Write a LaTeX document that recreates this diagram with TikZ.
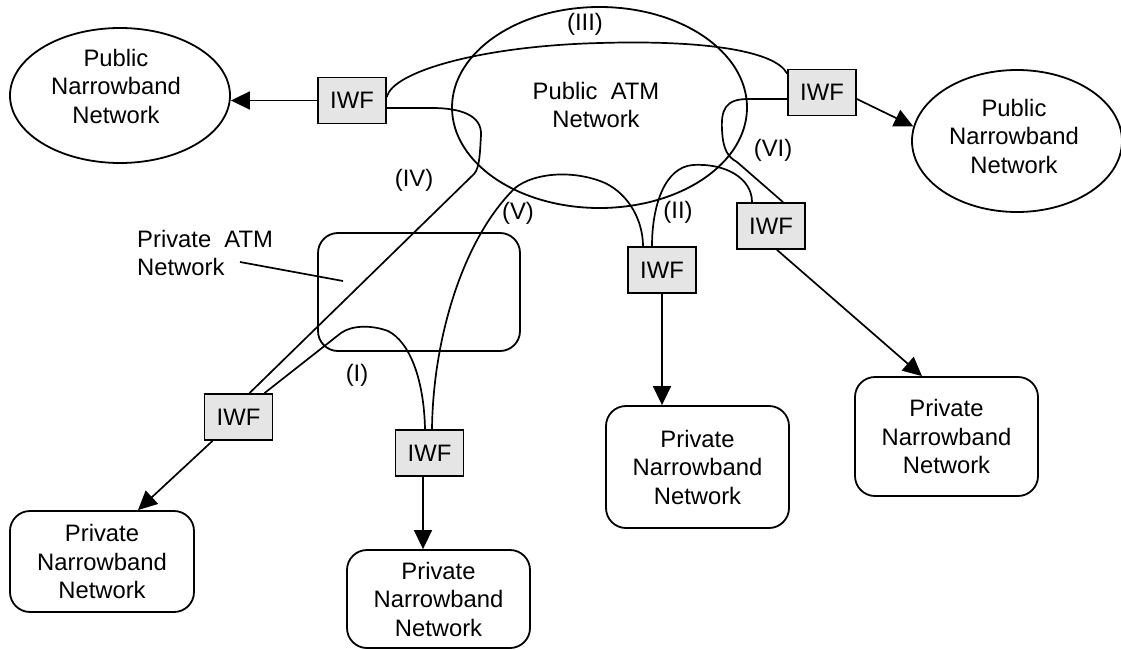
\documentclass[tikz,border=0pt]{standalone}
\usepackage{fontspec}
\setmainfont{Liberation Sans}
\usetikzlibrary{shapes.geometric,arrows.meta}
\begin{document}
\begin{tikzpicture}[x=1pt,y=-1pt,
  every node/.style={font=\fontsize{23.8}{28.5}\selectfont},
  ln/.style={line width=1.7pt},
  iwf/.style={draw, line width=1.8pt, fill=black!10, minimum width=68pt, minimum height=46pt, inner sep=0pt},
  pubnet/.style={ellipse, draw, line width=1.8pt, inner sep=0pt},
  privnet/.style={rectangle, draw, line width=1.8pt, rounded corners=20pt, align=center, inner sep=0pt},
  txt/.style={align=center, inner sep=0pt},
  tip/.style={-{Triangle[length=19pt,width=18pt]}}
]
\useasboundingbox (0,0) rectangle (1121,650);

% networks
\node[pubnet, minimum width=220pt, minimum height=135pt] (pubL) at (120,95.5) {};
\node[txt] (pubLt) at (116,86) {Public\\Narrowband\\Network};
\node[pubnet, minimum width=295pt, minimum height=201pt] (atm) at (599.5,107.5) {};
\node[txt] (atmt) at (596,105) {Public\ \ ATM\\Network};
\node[pubnet, minimum width=210pt, minimum height=142pt] (pubR) at (1017,141) {};
\node[txt] (pubRt) at (1014,136) {Public\\Narrowband\\Network};

\node[privnet, minimum width=202pt, minimum height=118pt] (patm) at (419,292) {};
\node[txt, align=left, anchor=north west] (patmt) at (137,230) {Private\ \ ATM\\Network};
\coordinate (ptrS) at (240,262);
\coordinate (ptrE) at (343,281);
\draw[ln] (ptrS) -- (ptrE);

\node[privnet, minimum width=184pt, minimum height=101pt] (pL) at (102,561.5) {Private\\Narrowband\\Network};
\node[privnet, minimum width=183pt, minimum height=98pt] (pB) at (438.5,599) {Private\\Narrowband\\Network};
\node[privnet, minimum width=183pt, minimum height=122pt] (pM) at (697.5,467) {Private\\Narrowband\\Network};
\node[privnet, minimum width=183pt, minimum height=119pt] (pR) at (946.5,436.5) {Private\\Narrowband\\Network};

% IWF boxes
\node[iwf] (w1) at (352,100.5) {IWF};
\node[iwf] (w2) at (822,92.5) {IWF};
\node[iwf] (w3) at (771,226) {IWF};
\node[iwf] (w4) at (662,270) {IWF};
\node[iwf] (w5) at (238.5,417) {IWF};
\node[iwf] (w6) at (429.5,453) {IWF};

% arrows
\draw[ln,tip] (w1.west) -- (w1.west -| pubL.east);
\draw[ln,tip] ([yshift=-6.5pt]w2.east) -- (pubR.172);
\draw[ln,tip] ([xshift=6pt]w3.south) -- ([xshift=-24.5pt]pR.north);
\draw[ln,tip] (w4.south) -- (w4.south |- pM.north);
\draw[ln,tip] ([xshift=-26pt]w5.south) -- ([xshift=36pt]pL.north);
\coordinate (w6s) at ([xshift=-6.5pt]w6.south);
\draw[ln,tip] (w6s) -- (w6s |- pB.north);

% connections
% (III)
\draw[ln] ([yshift=3.5pt]w1.east) .. controls (392,72) and (480,46) .. (600,43)
  .. controls (700,40) and (775,50) .. ([yshift=-5pt]w2.north west);
% (IV)
\draw[ln] ([yshift=-7.5pt]w1.east) -- (432,108) .. controls (460,108) and (482,115) .. (481,135)
  .. controls (480,150) and (480,168) .. (474,174) -- ([xshift=11pt]w5.north);
% (I)
\draw[ln] ([xshift=26pt]w5.north) -- (341,333) .. controls (352,325) and (372,325) .. (388,331)
  .. controls (410,342) and (424,380) .. ([xshift=-4.5pt]w6.north);
% (V)
\draw[ln] ([xshift=2.5pt]w6.north) .. controls (433,340) and (462,240) .. (515,188)
  .. controls (535,172) and (575,170) .. (605,183)
  .. controls (630,195) and (643,222) .. ([xshift=-19pt]w4.north);
% (II)
\draw[ln] ([xshift=-10pt]w4.north) .. controls (652,205) and (665,167) .. (693,165)
  .. controls (725,163) and (752,178) .. ([xshift=-19pt]w3.north);
% (VI)
\draw[ln] ([yshift=-6.5pt]w2.west) -- (748,99) .. controls (725,99) and (721,110) .. (722,130)
  .. controls (723,150) and (728,157) .. (737,162) -- ([xshift=12pt]w3.north);

% labels
\node[inner sep=0pt] (lI) at (357,375) {(I)};
\node[inner sep=0pt] (lII) at (678,212) {(II)};
\node[inner sep=0pt] (lIII) at (585,24) {(III)};
\node[inner sep=0pt] (lIV) at (414,180) {(IV)};
\node[inner sep=0pt] (lV) at (518,213) {(V)};
\node[inner sep=0pt] (lVI) at (773,150) {(VI)};
\end{tikzpicture}
\end{document}
